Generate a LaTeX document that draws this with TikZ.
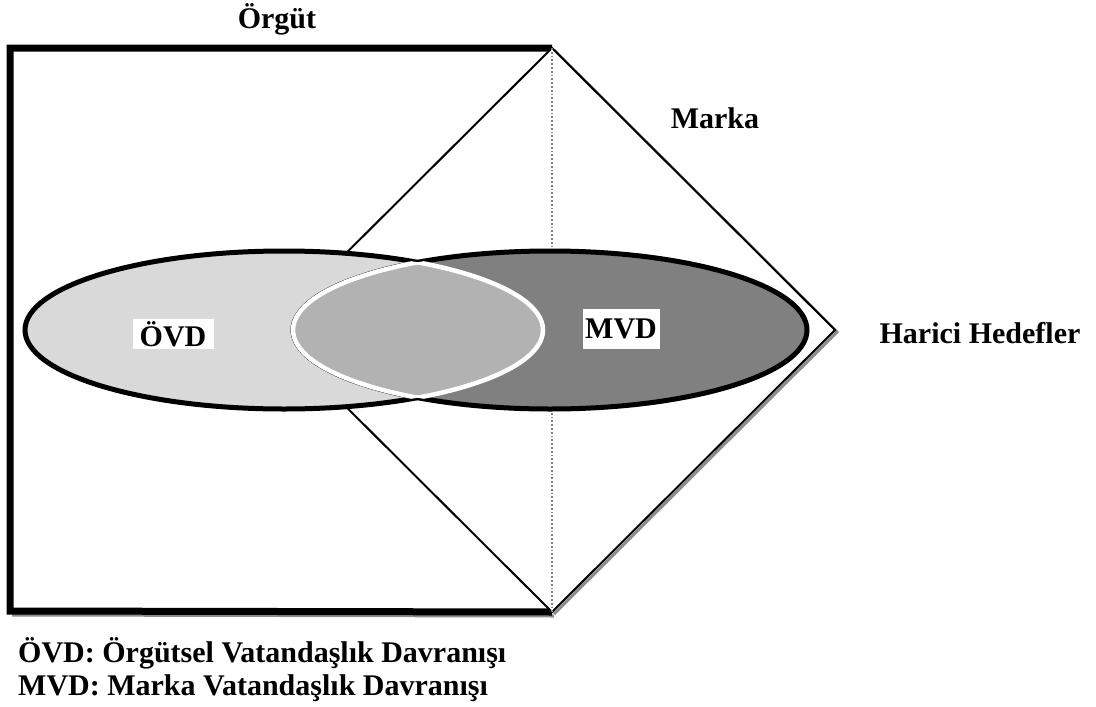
\documentclass[tikz,border=0pt]{standalone}
\usepackage{fontspec}
\setmainfont{Liberation Serif}
\usepackage{tikz}
\usetikzlibrary{positioning}

\definecolor{ovdgray}{HTML}{D9D9D9}
\definecolor{mvdgray}{HTML}{808080}
\definecolor{lensgray}{HTML}{B2B2B2}
\definecolor{shadowgray}{HTML}{8C8C8C}

\tikzset{
  lbl/.style={font=\fontsize{30}{34}\selectfont\bfseries, inner sep=0pt},
  tag/.style={lbl, fill=white, inner sep=0pt},
  ellipseline/.style={draw=black, line width=5pt},
}

\begin{document}
\begin{tikzpicture}[x=1pt, y=-1pt]
    \useasboundingbox (0,0) rectangle (1096,707);

    % corners of the box and of the diamond
    \coordinate (boxTL) at (10,48);
    \coordinate (boxBL) at (10,611);
    \coordinate (top) at (552,48);
    \coordinate (right) at (835,330);
    \coordinate (bottom) at (552,612);
    \coordinate (left) at (269,330);

    % shadows
    \draw[shadowgray, line width=3pt] ([shift={(2,2)}]top) -- ([shift={(2,2)}]right) -- ([shift={(2,2)}]bottom);
    \draw[shadowgray, line width=3pt] ([shift={(2,4)}]boxBL) -- ([shift={(2,4)}]bottom);

    % organisation box
    \draw[line width=7pt, miter limit=10] (top) -- (boxTL) -- (boxBL) -- (bottom);

    % brand diamond
    \draw[line width=2pt, fill=white] (top) -- (right) -- (bottom) -- (left) -- cycle;
    \draw[gray, dotted, line width=1.8pt] (top) -- (bottom);

    % the two ellipses
    \draw[ellipseline, fill=ovdgray] (284,330) ellipse [x radius=259pt, y radius=79pt];
    \draw[ellipseline, fill=mvdgray] (550,330) ellipse [x radius=257pt, y radius=79pt];

    % overlap
    \begin{scope}
        \clip (284,330) ellipse [x radius=259pt, y radius=79pt];
        \fill[lensgray] (550,330) ellipse [x radius=257pt, y radius=79pt];
        \draw[white, line width=4.5pt] (550,330) ellipse [x radius=257pt, y radius=79pt];
    \end{scope}
    \begin{scope}
        \clip (550,330) ellipse [x radius=257pt, y radius=79pt];
        \draw[white, line width=4.5pt] (284,330) ellipse [x radius=259pt, y radius=79pt];
    \end{scope}

    % labels
    \node[lbl, anchor=base] (orgut) at (277,28) {Örgüt};
    \node[lbl, anchor=base] (marka) at (715,128) {Marka};
    \node[lbl, anchor=base] (harici) at (980,343) {Harici Hedefler};
    \node[tag, minimum width=81pt, minimum height=30pt] (ovd) at (173,334) {ÖVD};
    \node[tag, minimum width=77pt, minimum height=40pt] (mvd) at (621,329) {MVD};

    % legend
    \node[lbl, anchor=base west] (leg1) at (18,662) {ÖVD: Örgütsel Vatandaşlık Davranışı};
    \node[lbl, anchor=base west] (leg2) at (18,695) {MVD: Marka Vatandaşlık Davranışı};
\end{tikzpicture}
\end{document}
